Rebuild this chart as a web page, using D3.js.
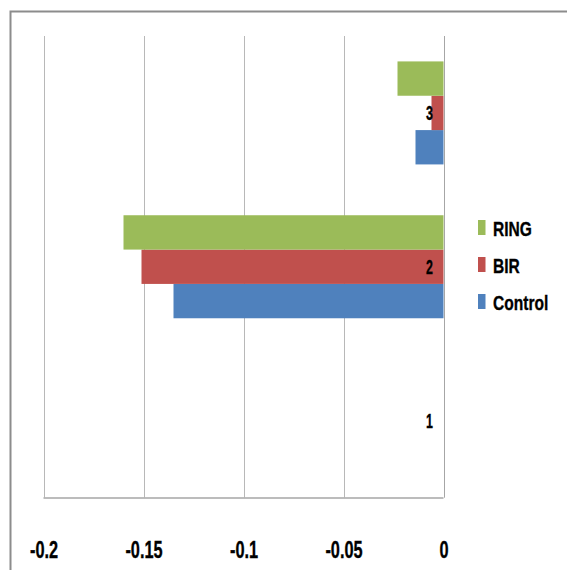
<!DOCTYPE html>
<html>
<head>
<meta charset="utf-8">
<script src="https://cdn.jsdelivr.net/npm/d3@7"></script>
<style>
  html, body { margin: 0; padding: 0; background: #fff; }
  svg { display: block; }
  text { font-family: "Liberation Sans", Arial, sans-serif; font-weight: bold; fill: #000; stroke: #000; stroke-width: 0.35; }
</style>
</head>
<body>
<svg id="chart" width="567" height="570"></svg>
<script>
// Category labels (top to bottom in the plot: 3, 2, 1)
const categories = ["1", "2", "3"];
// Series values per category
const seriesNames = ["Control", "BIR", "RING"];
const controlValues = [0, -0.135, -0.014];
const birValues = [0, -0.151, -0.006];
const ringValues = [0, -0.160, -0.023];
const seriesColors = ["#4F81BD", "#C0504D", "#9BBB59"];
// Value axis ticks
const tickValues = [-0.2, -0.15, -0.1, -0.05, 0];

const series = [
  { name: seriesNames[0], values: controlValues, color: seriesColors[0] },
  { name: seriesNames[1], values: birValues, color: seriesColors[1] },
  { name: seriesNames[2], values: ringValues, color: seriesColors[2] }
];

const svg = d3.select("#chart");

// Outer chart frame
svg.append("rect")
  .attr("x", 10.5).attr("y", 11.5)
  .attr("width", 700).attr("height", 700)
  .attr("fill", "none")
  .attr("stroke", "#8c8c8c")
  .attr("stroke-width", 2);

const plot = { left: 43.5, right: 443.5, top: 36, bottom: 497.5 };

const x = d3.scaleLinear().domain([-0.2, 0]).range([plot.left, plot.right]);

const y = d3.scaleBand()
  .domain(categories.slice().reverse())
  .range([plot.top, plot.bottom])
  .padding(0);

// Within a category: RING on top, then BIR, then Control
const ySub = d3.scaleBand()
  .domain(seriesNames.slice().reverse())
  .range([0, y.bandwidth()])
  .paddingInner(0)
  .paddingOuter(0.74);

// Vertical gridlines
svg.append("g")
  .selectAll("line")
  .data(tickValues)
  .join("line")
  .attr("x1", d => Math.round(x(d)) + 0.5)
  .attr("x2", d => Math.round(x(d)) + 0.5)
  .attr("y1", plot.top)
  .attr("y2", plot.bottom)
  .attr("stroke", "#b8b8b8")
  .attr("stroke-width", 1);

// Bars
const groups = svg.append("g")
  .selectAll("g")
  .data(categories)
  .join("g")
  .attr("transform", c => `translate(0,${y(c)})`);

groups.selectAll("rect")
  .data((c, i) => series.map(s => ({ name: s.name, value: s.values[i], color: s.color })))
  .join("rect")
  .attr("x", d => x(Math.min(0, d.value)))
  .attr("width", d => Math.abs(x(d.value) - x(0)))
  .attr("y", d => ySub(d.name))
  .attr("height", ySub.bandwidth())
  .attr("fill", d => d.color);

// Category axis line at zero
svg.append("line")
  .attr("x1", Math.round(x(0)) + 0.5)
  .attr("x2", Math.round(x(0)) + 0.5)
  .attr("y1", plot.top)
  .attr("y2", plot.bottom)
  .attr("stroke", "#a6a6a6")
  .attr("stroke-width", 1);

// Value axis
const xAxis = d3.axisBottom(x)
  .tickValues(tickValues)
  .tickSize(0)
  .tickFormat(d => d === 0 ? "0" : String(d));

const axisG = svg.append("g")
  .attr("transform", `translate(0,${plot.bottom})`)
  .call(xAxis);

axisG.select(".domain")
  .attr("d", `M${plot.left},0.5H${plot.right}`)
  .attr("stroke", "#a6a6a6")
  .attr("stroke-width", 1.5);

axisG.selectAll(".tick text")
  .attr("y", 61)
  .attr("dy", 0)
  .attr("transform", "scale(0.68,1)")
  .attr("font-size", 24)
  .attr("font-family", "'Liberation Sans', Arial, sans-serif")
  .attr("font-weight", "bold")
  .attr("fill", "#000")
  .attr("stroke", "#000")
  .attr("stroke-width", 0.4);

// Category labels, next to the zero axis
svg.append("g")
  .selectAll("text")
  .data(categories)
  .join("text")
  .attr("transform", c => `translate(433,${y(c) + y.bandwidth() / 2 + 7}) scale(0.62,1)`)
  .attr("text-anchor", "end")
  .attr("font-size", 20)
  .text(c => c);

// Legend (RING, BIR, Control from top)
const legendItems = series.slice().reverse();
const legend = svg.append("g")
  .selectAll("g")
  .data(legendItems)
  .join("g")
  .attr("transform", (d, i) => `translate(478,${220 + i * 37})`);

legend.append("rect")
  .attr("x", 0).attr("y", 0)
  .attr("width", 7.5).attr("height", 15)
  .attr("fill", d => d.color);

legend.append("text")
  .attr("transform", "translate(15,15.5) scale(0.76,1)")
  .attr("font-size", 20.5)
  .text(d => d.name);
</script>
</body>
</html>
